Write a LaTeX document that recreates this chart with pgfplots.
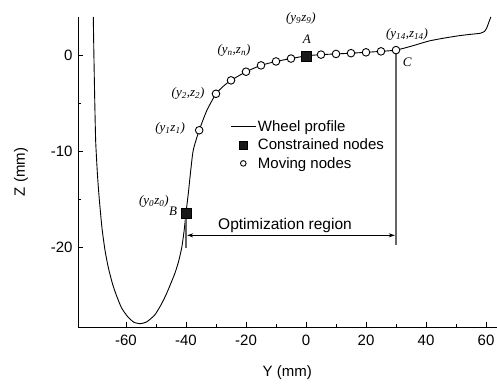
\documentclass[border=0pt]{standalone}
\usepackage{pgfplots}
\pgfplotsset{compat=1.18}
\usepackage{fontspec}
\setmainfont{Liberation Sans}
\newfontfamily\tnr{Liberation Serif}
\usetikzlibrary{arrows.meta}

\pgfplotsset{
  lineleg/.style={legend image code/.code={\draw[##1] (-0.25cm,0cm) -- (0.6cm,0cm);}},
  squareleg/.style={legend image code/.code={\draw[##1, mark size=4pt] plot coordinates {(0.17cm,0cm)};}},
  circleleg/.style={legend image code/.code={\draw[##1, mark size=2.8pt] plot coordinates {(0.17cm,0cm)};}},
}

% wheel profile (Y, Z) in mm
\pgfplotstableread{
y z
-70.9 4.0
-70.7 0.0
-70.4 -5.0
-70.1 -9.0
-69.5 -12.5
-68.9 -15.0
-68.0 -18.0
-67.0 -20.3
-65.9 -22.1
-64.5 -23.8
-63.2 -25.0
-61.5 -26.3
-59.5 -27.2
-57.4 -27.8
-55.2 -27.95
-53.3 -27.8
-51.8 -27.45
-50.3 -27.0
-48.7 -26.2
-47.2 -25.3
-45.9 -24.4
-43.7 -22.7
-42.5 -21.5
-41.4 -20.0
-40.6 -18.2
-40.0 -16.4
-39.2 -14.3
-38.6 -12.5
-37.6 -9.9
-35.6 -7.8
-33.0 -5.7
-30.0 -4.0
-27.5 -3.2
-25.0 -2.6
-20.0 -1.7
-15.0 -1.04
-10.0 -0.63
-5.0 -0.33
0.0 -0.05
5.0 0.08
10.0 0.15
15.0 0.23
20.0 0.32
25.0 0.42
30.0 0.55
35.0 0.95
41.0 1.5
46.0 1.8
51.0 2.05
55.0 2.2
58.0 2.3
59.5 2.5
60.3 2.9
61.0 3.5
61.6 4.0
}\profile

\pgfplotstableread{
y z
-40.0 -16.4
0.0 -0.05
}\constrained

\pgfplotstableread{
y z
-35.6 -7.8
-30.0 -4.0
-25.0 -2.6
-20.0 -1.7
-15.0 -1.04
-10.0 -0.63
-5.0 -0.33
5.0 0.08
10.0 0.15
15.0 0.23
20.0 0.32
25.0 0.42
30.0 0.55
}\moving

\begin{document}
\begin{tikzpicture}
\begin{axis}[
  scale only axis,
  width=418.5pt, height=310pt,
  xmin=-76, xmax=63.5,
  ymin=-28.3, ymax=4,
  axis x line*=bottom, axis y line*=left,
  axis line style={line width=0.9pt},
  tick align=inside,
  major tick length=5pt, minor tick length=3pt,
  tick style={line width=0.8pt, black},
  xtick={-60,-40,...,60}, ytick={-20,-10,0},
  minor x tick num=1, minor y tick num=1,
  tick label style={font=\fontsize{15}{17}\selectfont},
  /pgf/number format/assume math mode=true,
  xticklabel style={yshift=-4pt},
  yticklabel style={xshift=-2pt},
  xlabel={Y (mm)}, ylabel={Z (mm)},
  label style={font=\fontsize{15}{17}\selectfont},
  xlabel style={yshift=-14pt},
  ylabel style={yshift=16pt},
  clip=false,
  legend style={at={(axis cs:-25.1,-6.55)}, anchor=north west,
    draw=none, fill=none, font=\fontsize{15}{17}\selectfont,
    inner sep=0pt, row sep=2pt, cells={anchor=west}},
]
\addplot[black, line width=0.9pt, smooth, tension=0.35, lineleg]
  table[x=y, y=z] {\profile};
\addlegendentry{Wheel profile}

\addplot[only marks, mark=square*, mark size=5pt, black, fill=black!90, squareleg]
  table[x=y, y=z] {\constrained};
\addlegendentry{Constrained nodes}

\addplot[only marks, mark=*, mark size=3.8pt, black, fill=white, line width=0.9pt, circleleg]
  table[x=y, y=z] {\moving};
\addlegendentry{Moving nodes}

% optimization region
\draw[black!60, line width=1.3pt] (axis cs:-40,-16.4) -- (axis cs:-40,-20.1);
\draw[black!60, line width=1.3pt] (axis cs:30,0.3) -- (axis cs:30,-19.8);
\draw[black, line width=0.8pt, {Stealth[length=6pt,width=4pt]}-{Stealth[length=6pt,width=4pt]}]
  (axis cs:-39.6,-18.75) -- (axis cs:29.6,-18.75);
\node[font=\fontsize{15.5}{18}\selectfont] at (axis cs:-7,-17.75) {Optimization region};

% node labels
\begin{scope}[every node/.style={font=\tnr\itshape\fontsize{13}{15}\selectfont, inner sep=0pt}]
\node at (axis cs:-1.7,3.85) {(y\textsubscript{9}z\textsubscript{9})};
\node at (axis cs:0.3,1.67) {A};
\node at (axis cs:-24,0.5) {(y\textsubscript{n},z\textsubscript{n})};
\node at (axis cs:-39.3,-4.0) {(y\textsubscript{2},z\textsubscript{2})};
\node at (axis cs:-45.3,-7.6) {(y\textsubscript{1}z\textsubscript{1})};
\node at (axis cs:33.7,2.2) {(y\textsubscript{14},z\textsubscript{14})};
\node at (axis cs:33.7,-0.73) {C};
\node at (axis cs:-50.7,-15.2) {(y\textsubscript{0}z\textsubscript{0})};
\node at (axis cs:-44.3,-16.25) {B};
\end{scope}
\end{axis}
\pgfresetboundingbox
\path (-78pt,-56pt) rectangle (419pt,327pt);
\end{tikzpicture}
\end{document}
